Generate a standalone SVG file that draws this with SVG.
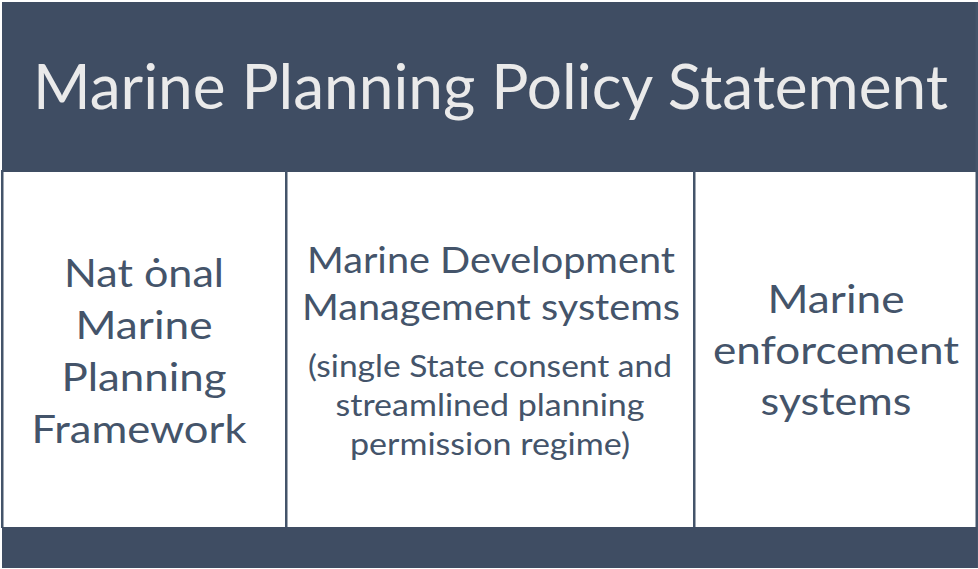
<svg xmlns="http://www.w3.org/2000/svg" width="978" height="569" viewBox="0 0 978 569">
  <style>
    .band { fill: #3f4d63; }
    .cell { fill: #ffffff; }
    .rule { fill: #44546a; }
    .title { font-family: Lato, "Open Sans", "Liberation Sans", sans-serif; font-size: 61px; fill: #eaeaea; text-anchor: middle; }
    .big { font-family: Lato, "Open Sans", "Liberation Sans", sans-serif; font-size: 39px; fill: #44546a; text-anchor: middle; }
    .mid { font-family: Lato, "Open Sans", "Liberation Sans", sans-serif; font-size: 36px; fill: #44546a; text-anchor: middle; }
    .small { font-family: Lato, "Open Sans", "Liberation Sans", sans-serif; font-size: 30px; fill: #44546a; text-anchor: middle; }
  </style>
  <rect x="0" y="0" width="978" height="569" fill="#ffffff"/>

  <g id="header">
    <rect class="band" x="2" y="2" width="975" height="170"/>
    <text class="title" x="490.5" y="109" textLength="915" lengthAdjust="spacingAndGlyphs">Marine Planning Policy Statement</text>
  </g>

  <g id="framework">
    <rect class="cell" x="3" y="172" width="282" height="355"/>
    <text class="big" x="144" y="287" textLength="160" lengthAdjust="spacingAndGlyphs">Nat ȯnal</text>
    <text class="big" x="144" y="339" textLength="137" lengthAdjust="spacingAndGlyphs">Marine</text>
    <text class="big" x="144" y="391" textLength="165" lengthAdjust="spacingAndGlyphs">Planning</text>
    <text class="big" x="139" y="443" textLength="215" lengthAdjust="spacingAndGlyphs">Framework</text>
  </g>

  <g id="development">
    <rect class="cell" x="287" y="172" width="406" height="355"/>
    <text class="mid" x="491" y="273" textLength="368" lengthAdjust="spacingAndGlyphs">Marine Development</text>
    <text class="mid" x="491" y="320" textLength="378" lengthAdjust="spacingAndGlyphs">Management systems</text>
    <text class="small" x="490" y="377" textLength="364" lengthAdjust="spacingAndGlyphs">(single State consent and</text>
    <text class="small" x="490" y="416" textLength="309" lengthAdjust="spacingAndGlyphs">streamlined planning</text>
    <text class="small" x="490" y="455" textLength="280" lengthAdjust="spacingAndGlyphs">permission regime)</text>
  </g>

  <g id="enforcement">
    <rect class="cell" x="695" y="172" width="281" height="355"/>
    <text class="big" x="836" y="313" textLength="137" lengthAdjust="spacingAndGlyphs">Marine</text>
    <text class="big" x="836" y="364" textLength="246" lengthAdjust="spacingAndGlyphs">enforcement</text>
    <text class="big" x="836" y="415" textLength="151" lengthAdjust="spacingAndGlyphs">systems</text>
  </g>

  <g id="connectors">
    <rect class="rule" x="1" y="170" width="2.5" height="358"/>
    <rect class="rule" x="285" y="170" width="2.5" height="358"/>
    <rect class="rule" x="693" y="170" width="2.5" height="358"/>
    <rect class="rule" x="975.5" y="2" width="2.5" height="566"/>
  </g>

  <g id="footer">
    <rect class="band" x="2" y="527" width="975" height="41"/>
  </g>
</svg>
